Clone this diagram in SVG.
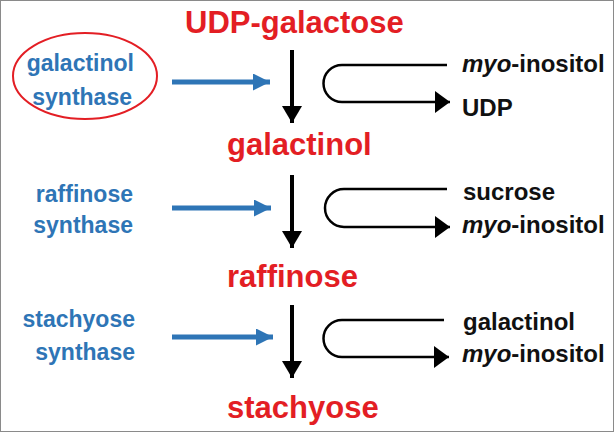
<svg xmlns="http://www.w3.org/2000/svg" width="615" height="433" viewBox="0 0 615 433">
<style>
.red{font-family:"Liberation Sans",Arial,sans-serif;font-weight:bold;font-size:31px;fill:#e31e24}
.blue{font-family:"Liberation Sans",Arial,sans-serif;font-weight:bold;font-size:23px;fill:#2e75b6;text-anchor:end}
.blk{font-family:"Liberation Sans",Arial,sans-serif;font-weight:bold;font-size:24px;fill:#111}
.down{stroke:#000;stroke-width:4;fill:none;marker-end:url(#hd)}
.enz{stroke:#2e75b6;stroke-width:5;fill:none;marker-end:url(#hb)}
.loop{stroke:#000;stroke-width:2.5;fill:none;marker-end:url(#hl)}
</style>
<defs>
<marker id="hd" markerUnits="userSpaceOnUse" markerWidth="17" markerHeight="20" refX="17" refY="10" orient="auto" viewBox="0 0 17 20"><path d="M0,0 L17,10 L0,20 Z" fill="#000"/></marker>
<marker id="hb" markerUnits="userSpaceOnUse" markerWidth="17" markerHeight="17" refX="17" refY="8.5" orient="auto" viewBox="0 0 17 17"><path d="M0,0 L17,8.5 L0,17 Z" fill="#2e75b6"/></marker>
<marker id="hl" markerUnits="userSpaceOnUse" markerWidth="15" markerHeight="22" refX="15" refY="11" orient="auto" viewBox="0 0 15 22"><path d="M0,0 L15,11 L0,22 Z" fill="#000"/></marker>
</defs>
<rect x="0.5" y="0.5" width="613" height="431" fill="#fff" stroke="#8a8a8a" stroke-width="1"/>
<g id="connectors">
<line class="down" x1="292" y1="50" x2="292" y2="123"/>
<line class="down" x1="292" y1="175" x2="292" y2="248"/>
<line class="down" x1="292" y1="305" x2="292" y2="378"/>
<line class="enz" x1="172" y1="82" x2="270" y2="82"/>
<line class="enz" x1="172" y1="208" x2="271" y2="208"/>
<line class="enz" x1="172" y1="337" x2="273" y2="337"/>
<path class="loop" d="M447,65 H342 A18.5,18.5 0 0 0 342,102 H450"/>
<path class="loop" d="M447,189 H344 A19,19 0 0 0 344,227 H450"/>
<path class="loop" d="M444,320 H342 A18.5,18.5 0 0 0 342,357 H449"/>
</g>
<g id="udp-galactose"><text class="red" x="185" y="33">UDP-galactose</text></g>
<g id="galactinol"><text class="red" x="227" y="155">galactinol</text></g>
<g id="raffinose"><text class="red" x="227" y="287">raffinose</text></g>
<g id="stachyose"><text class="red" x="227" y="418">stachyose</text></g>
<g id="galactinol-synthase">
<ellipse cx="85" cy="76" rx="72" ry="43" fill="none" stroke="#e31e24" stroke-width="2"/>
<text class="blue" x="134" y="71">galactinol</text>
<text class="blue" x="132" y="105">synthase</text>
</g>
<g id="raffinose-synthase">
<text class="blue" x="133" y="202">raffinose</text>
<text class="blue" x="133" y="233">synthase</text>
</g>
<g id="stachyose-synthase">
<text class="blue" x="135" y="327">stachyose</text>
<text class="blue" x="135" y="360">synthase</text>
</g>
<g id="side1">
<text class="blk" x="462" y="72"><tspan font-style="italic">myo</tspan>-inositol</text>
<text class="blk" x="462" y="116">UDP</text>
</g>
<g id="side2">
<text class="blk" x="463" y="200">sucrose</text>
<text class="blk" x="462" y="233"><tspan font-style="italic">myo</tspan>-inositol</text>
</g>
<g id="side3">
<text class="blk" x="463" y="330">galactinol</text>
<text class="blk" x="462" y="362"><tspan font-style="italic">myo</tspan>-inositol</text>
</g>
</svg>
